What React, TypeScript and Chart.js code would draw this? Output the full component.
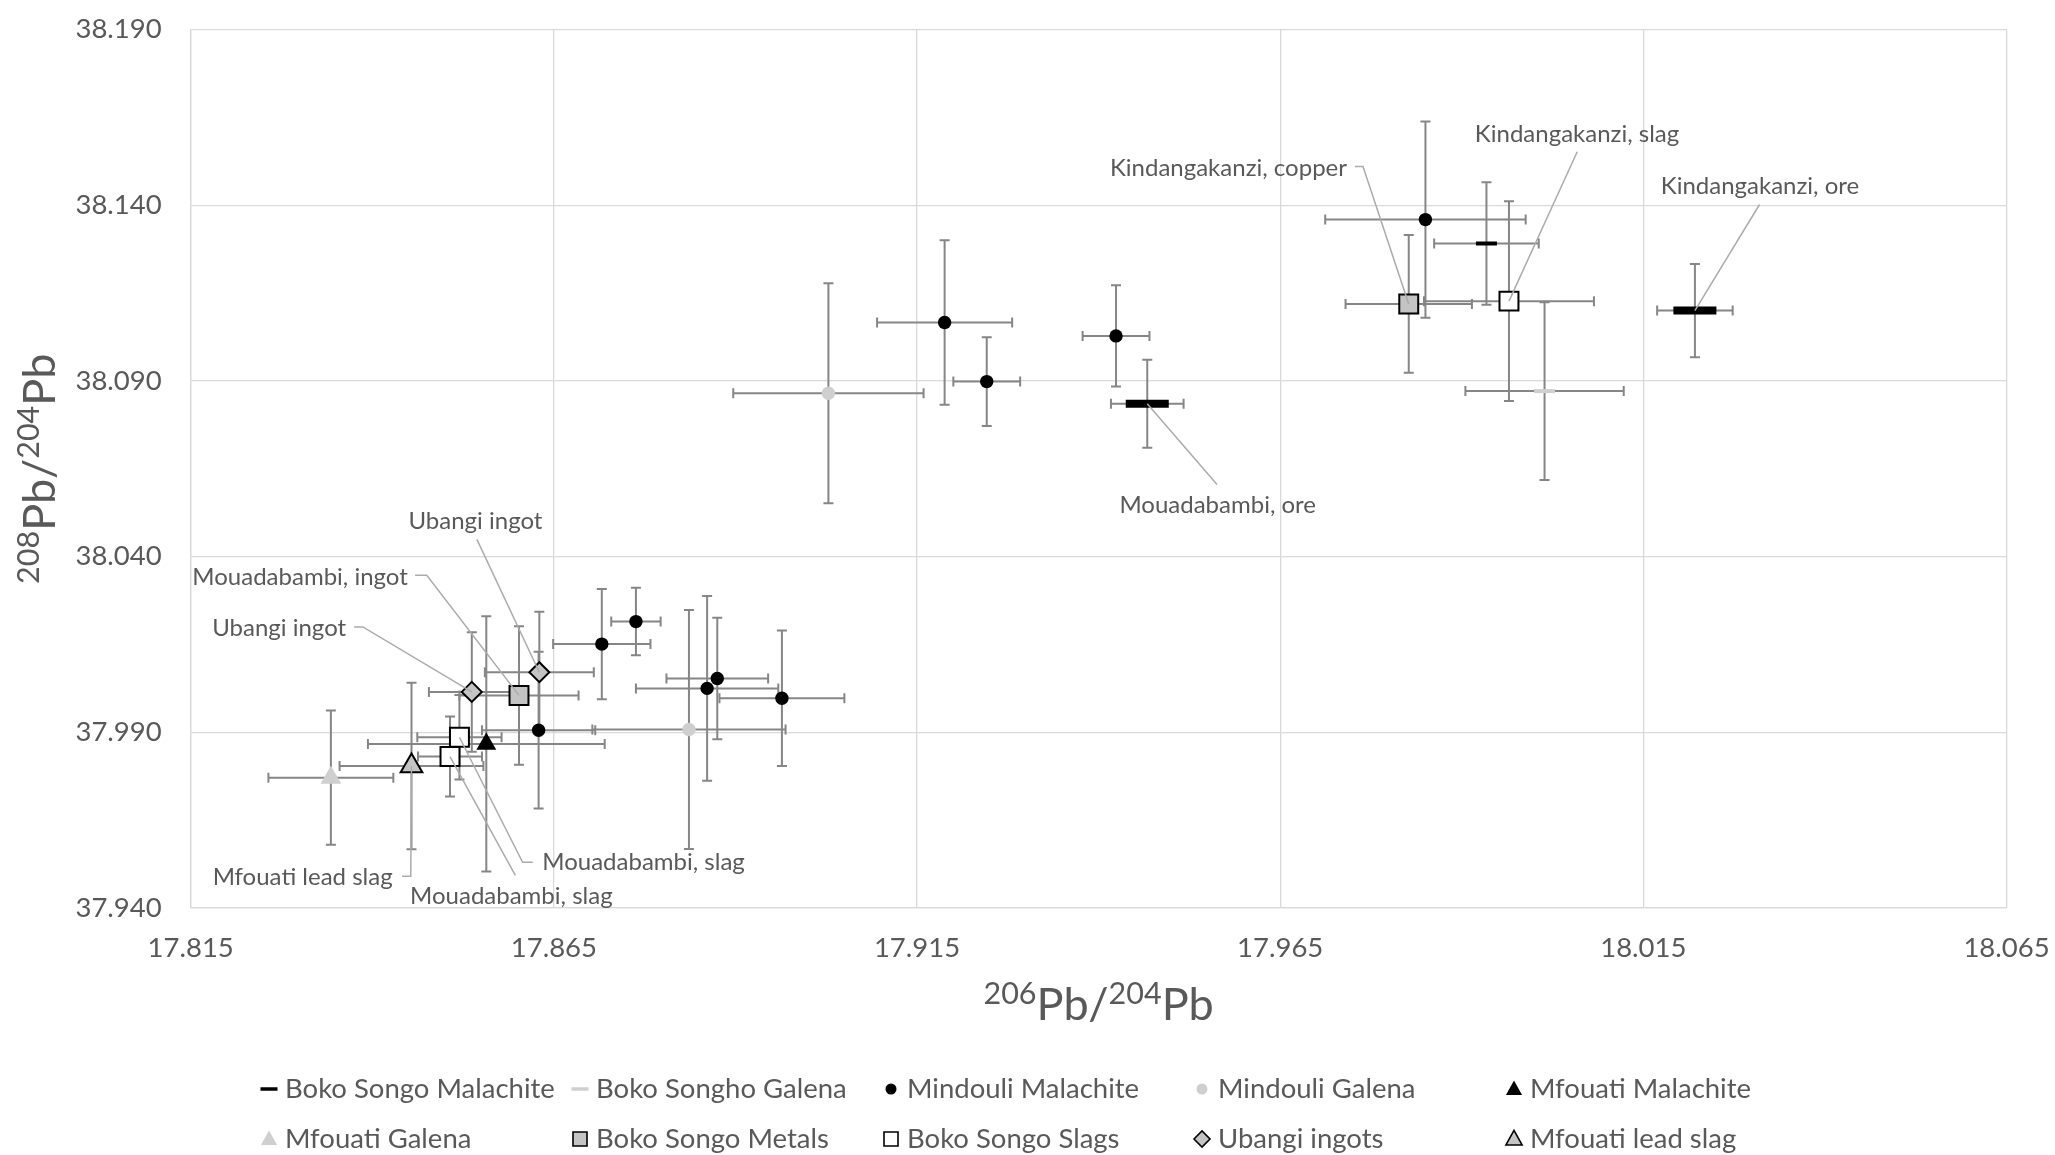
import React, { useEffect, useRef } from 'react';
import { Chart, registerables } from 'chart.js';

Chart.register(...registerables);

// ---------- axis ticks ----------
const xTickValues = [17.815, 17.865, 17.915, 17.965, 18.015, 18.065];
const yTickValues = [37.94, 37.99, 38.04, 38.09, 38.14, 38.19];

// ---------- series ----------
const seriesNames = [
  'Boko Songo Malachite',
  'Boko Songho Galena',
  'Mindouli Malachite',
  'Mindouli Galena',
  'Mfouati Malachite',
  'Mfouati Galena',
  'Boko Songo Metals',
  'Boko Songo Slags',
  'Ubangi ingots',
  'Mfouati lead slag',
];

const bsMalachiteX = [17.9467, 17.9934, 18.0221];
const bsMalachiteY = [38.0835, 38.1291, 38.11];
const bsMalachiteXErr = [0.005, 0.0072, 0.0052];
const bsMalachiteYErr = [0.0125, 0.0174, 0.0133];

const bsGalenaX = [18.0014];
const bsGalenaY = [38.0871];
const bsGalenaXErr = [0.0109];
const bsGalenaYErr = [0.0253];

const minMalachiteX = [17.8629, 17.8716, 17.8763, 17.8861, 17.8875, 17.8964, 17.9188, 17.9246, 17.9424, 17.985];
const minMalachiteY = [37.9906, 38.0151, 38.0215, 38.0025, 38.0053, 37.9997, 38.1066, 38.0898, 38.1028, 38.1359];
const minMalachiteXErr = [0.0078, 0.0067, 0.0034, 0.0098, 0.007, 0.0086, 0.0093, 0.0046, 0.0046, 0.0138];
const minMalachiteYErr = [0.0223, 0.0157, 0.0096, 0.0263, 0.0173, 0.0193, 0.0234, 0.0126, 0.0144, 0.0279];

const minGalenaX = [17.9028, 17.8836];
const minGalenaY = [38.0865, 37.9908];
const minGalenaXErr = [0.0131, 0.0133];
const minGalenaYErr = [0.0313, 0.034];

const mfMalachiteX = [17.8557];
const mfMalachiteY = [37.9867];
const mfMalachiteXErr = [0.0163];
const mfMalachiteYErr = [0.0363];

const mfGalenaX = [17.8343];
const mfGalenaY = [37.9771];
const mfGalenaXErr = [0.0086];
const mfGalenaYErr = [0.0191];

const bsMetalsX = [17.8602, 17.9827];
const bsMetalsY = [38.0005, 38.1119];
const bsMetalsXErr = [0.0082, 0.0087];
const bsMetalsYErr = [0.0197, 0.0196];

const bsSlagsX = [17.852, 17.8507, 17.9965];
const bsSlagsY = [37.9886, 37.9831, 38.1127];
const bsSlagsXErr = [0.0058, 0.0044, 0.0117];
const bsSlagsYErr = [0.012, 0.0114, 0.0284];

const ubangiX = [17.8537, 17.863];
const ubangiY = [38.0015, 38.0071];
const ubangiXErr = [0.0059, 0.0075];
const ubangiYErr = [0.017, 0.0172];

const mfLeadSlagX = [17.8454];
const mfLeadSlagY = [37.9804];
const mfLeadSlagXErr = [0.0099];
const mfLeadSlagYErr = [0.0237];

const seriesValues = [
  [bsMalachiteX, bsMalachiteY, bsMalachiteXErr, bsMalachiteYErr],
  [bsGalenaX, bsGalenaY, bsGalenaXErr, bsGalenaYErr],
  [minMalachiteX, minMalachiteY, minMalachiteXErr, minMalachiteYErr],
  [minGalenaX, minGalenaY, minGalenaXErr, minGalenaYErr],
  [mfMalachiteX, mfMalachiteY, mfMalachiteXErr, mfMalachiteYErr],
  [mfGalenaX, mfGalenaY, mfGalenaXErr, mfGalenaYErr],
  [bsMetalsX, bsMetalsY, bsMetalsXErr, bsMetalsYErr],
  [bsSlagsX, bsSlagsY, bsSlagsXErr, bsSlagsYErr],
  [ubangiX, ubangiY, ubangiXErr, ubangiYErr],
  [mfLeadSlagX, mfLeadSlagY, mfLeadSlagXErr, mfLeadSlagYErr],
];

// ---------- callouts ----------
const calloutTexts = [
  'Kindangakanzi, copper',
  'Kindangakanzi, slag',
  'Kindangakanzi, ore',
  'Mouadabambi, ore',
  'Ubangi ingot',
  'Mouadabambi, ingot',
  'Ubangi ingot',
  'Mfouati lead slag',
  'Mouadabambi, slag',
  'Mouadabambi, slag',
];
// [series index, point index] that each callout points to
const calloutTargets = [[6, 1], [7, 2], [0, 2], [0, 0], [8, 1], [6, 0], [8, 0], [9, 0], [7, 0], [7, 1]];

// ---------- styles / layout ----------
const GRAY_LIGHT = '#cfcfcf';
const GRAY_FILL = '#c4c4c4';
const TEXT = '#595959';
const FONT = 'Lato';

const seriesStyles: any[] = [
  { style: 'line', radius: [21.5, 10.5, 21.5], bw: [8, 4, 8], fill: '#000', stroke: '#000' },
  { style: 'line', radius: 10.5, bw: 4, fill: GRAY_LIGHT, stroke: GRAY_LIGHT },
  { style: 'circle', radius: 6.7, bw: 0, fill: '#000', stroke: '#000' },
  { style: 'circle', radius: 6.7, bw: 0, fill: GRAY_LIGHT, stroke: GRAY_LIGHT },
  { style: 'triangle', radius: 11.5, bw: 0, fill: '#000', stroke: '#000' },
  { style: 'triangle', radius: 12, bw: 0, fill: GRAY_LIGHT, stroke: GRAY_LIGHT },
  { style: 'rect', radius: 13.4, bw: 2, fill: GRAY_FILL, stroke: '#000' },
  { style: 'rect', radius: 13.4, bw: 2, fill: '#fff', stroke: '#000' },
  { style: 'rectRot', radius: 10, bw: 2, fill: GRAY_FILL, stroke: '#000' },
  { style: 'triangle', radius: 12.5, bw: 2, fill: GRAY_FILL, stroke: '#000' },
];

const legendMarkers: any[] = [
  { style: 'line', size: 8.5, bw: 3.5 },
  { style: 'line', size: 8.5, bw: 3.5 },
  { style: 'circle', size: 5.5, bw: 0 },
  { style: 'circle', size: 5.5, bw: 0 },
  { style: 'triangle', size: 9.5, bw: 0 },
  { style: 'triangle', size: 9.5, bw: 0 },
  { style: 'rect', size: 7, bw: 1.6 },
  { style: 'rect', size: 7, bw: 1.6 },
  { style: 'rectRot', size: 8, bw: 1.6 },
  { style: 'triangle', size: 9.5, bw: 1.6 },
];

// label anchor (data units), alignment, and leader bend points (data units)
const calloutLayout: any[] = [
  { x: 17.9742, y: 38.1504, align: 'right', path: [[17.9753, 38.151], [17.9764, 38.151]] },
  { x: 17.9918, y: 38.1603, align: 'left', path: [[18.0059, 38.1552]] },
  { x: 18.0174, y: 38.1453, align: 'left', path: [[18.031, 38.1402]] },
  { x: 17.9564, y: 38.0545, align: 'center', path: [[17.9563, 38.0605]] },
  { x: 17.8542, y: 38.05, align: 'center', path: [[17.8544, 38.0449]] },
  { x: 17.8449, y: 38.0342, align: 'right', path: [[17.8459, 38.0347], [17.8475, 38.0347]] },
  { x: 17.8364, y: 38.0195, align: 'right', path: [[17.8375, 38.02], [17.8387, 38.02]] },
  { x: 17.8428, y: 37.9488, align: 'right', path: [[17.8441, 37.949], [17.8453, 37.949]] },
  { x: 17.8634, y: 37.953, align: 'left', path: [[17.8621, 37.953], [17.8607, 37.953]] },
  { x: 17.8452, y: 37.9434, align: 'left', path: [[17.8597, 37.9493]] },
];

const legendColsX = [269, 580, 891, 1202, 1514];
const legendRowsOffset = [181, 231];

function drawShape(ctx: CanvasRenderingContext2D, style: string, x: number, y: number, r: number) {
  ctx.beginPath();
  if (style === 'circle') {
    ctx.arc(x, y, r, 0, Math.PI * 2);
  } else if (style === 'line') {
    ctx.moveTo(x - r, y);
    ctx.lineTo(x + r, y);
  } else if (style === 'triangle') {
    const h = r * 0.9;
    ctx.moveTo(x, y - h);
    ctx.lineTo(x + r * 0.85, y + h * 0.7);
    ctx.lineTo(x - r * 0.85, y + h * 0.7);
    ctx.closePath();
  } else if (style === 'rect') {
    ctx.rect(x - r, y - r, 2 * r, 2 * r);
  } else if (style === 'rectRot') {
    ctx.moveTo(x - r, y);
    ctx.lineTo(x, y - r);
    ctx.lineTo(x + r, y);
    ctx.lineTo(x, y + r);
    ctx.closePath();
  }
}

function drawRatioTitle(ctx: CanvasRenderingContext2D, cx: number, baseline: number, a: string, b: string) {
  const big = `45px ${FONT}`;
  const small = `30.5px ${FONT}`;
  const parts: [string, boolean][] = [[a, true], ['Pb/', false], [b, true], ['Pb', false]];
  let total = 0;
  const widths = parts.map(([t, sup]) => {
    ctx.font = sup ? small : big;
    const w = ctx.measureText(t).width;
    total += w;
    return w;
  });
  let x = cx - total / 2;
  ctx.fillStyle = TEXT;
  ctx.textAlign = 'left';
  ctx.textBaseline = 'alphabetic';
  parts.forEach(([t, sup], i) => {
    ctx.font = sup ? small : big;
    ctx.fillText(t, x, sup ? baseline - 16 : baseline);
    x += widths[i];
  });
}

const errorBarPlugin = {
  id: 'errorBars',
  beforeDatasetsDraw(chart: any) {
    const { ctx, scales } = chart;
    const xs = scales.x;
    const ys = scales.y;
    const cap = 5;
    ctx.save();
    ctx.strokeStyle = '#868686';
    ctx.lineWidth = 2;
    chart.data.datasets.forEach((ds: any) => {
      ds.data.forEach((p: any) => {
        const px = xs.getPixelForValue(p.x);
        const py = ys.getPixelForValue(p.y);
        const x0 = xs.getPixelForValue(p.x - p.xErr);
        const x1 = xs.getPixelForValue(p.x + p.xErr);
        const y0 = ys.getPixelForValue(p.y - p.yErr);
        const y1 = ys.getPixelForValue(p.y + p.yErr);
        ctx.beginPath();
        ctx.moveTo(x0, py); ctx.lineTo(x1, py);
        ctx.moveTo(x0, py - cap); ctx.lineTo(x0, py + cap);
        ctx.moveTo(x1, py - cap); ctx.lineTo(x1, py + cap);
        ctx.moveTo(px, y0); ctx.lineTo(px, y1);
        ctx.moveTo(px - cap, y0); ctx.lineTo(px + cap, y0);
        ctx.moveTo(px - cap, y1); ctx.lineTo(px + cap, y1);
        ctx.stroke();
      });
    });
    ctx.restore();
  },
};

const calloutPlugin = {
  id: 'callouts',
  afterDatasetsDraw(chart: any) {
    const { ctx, scales } = chart;
    const xs = scales.x;
    const ys = scales.y;
    ctx.save();
    calloutTexts.forEach((text, i) => {
      const lay = calloutLayout[i];
      const [si, pi] = calloutTargets[i];
      const target = chart.data.datasets[si].data[pi];
      ctx.strokeStyle = '#ababab';
      ctx.lineWidth = 1.5;
      ctx.beginPath();
      lay.path.forEach(([vx, vy]: number[], k: number) => {
        const X = xs.getPixelForValue(vx);
        const Y = ys.getPixelForValue(vy);
        if (k === 0) ctx.moveTo(X, Y); else ctx.lineTo(X, Y);
      });
      ctx.lineTo(xs.getPixelForValue(target.x), ys.getPixelForValue(target.y));
      ctx.stroke();
      ctx.font = `24px ${FONT}`;
      ctx.fillStyle = TEXT;
      ctx.textAlign = lay.align;
      ctx.textBaseline = 'middle';
      ctx.fillText(text, xs.getPixelForValue(lay.x), ys.getPixelForValue(lay.y));
    });
    ctx.restore();
  },
};

const decorPlugin = {
  id: 'decor',
  afterDraw(chart: any) {
    const { ctx, chartArea } = chart;
    const cx = (chartArea.left + chartArea.right) / 2;
    const cy = (chartArea.top + chartArea.bottom) / 2;
    ctx.save();
    drawRatioTitle(ctx, cx, chartArea.bottom + 112, '206', '204');
    ctx.translate(55, cy);
    ctx.rotate(-Math.PI / 2);
    drawRatioTitle(ctx, 0, 0, '208', '204');
    ctx.restore();

    // legend
    ctx.save();
    seriesNames.forEach((name, i) => {
      const row = Math.floor(i / 5);
      const col = i % 5;
      const x = legendColsX[col];
      const y = chartArea.bottom + legendRowsOffset[row];
      const m = legendMarkers[i];
      const st = seriesStyles[i];
      drawShape(ctx, m.style, x, y, m.size);
      if (m.style === 'line') {
        ctx.strokeStyle = st.stroke;
        ctx.lineWidth = m.bw;
        ctx.stroke();
      } else {
        ctx.fillStyle = st.fill;
        ctx.fill();
        if (m.bw > 0) {
          ctx.strokeStyle = st.stroke;
          ctx.lineWidth = m.bw;
          ctx.stroke();
        }
      }
      ctx.font = `27.5px ${FONT}`;
      ctx.fillStyle = TEXT;
      ctx.textAlign = 'left';
      ctx.textBaseline = 'middle';
      ctx.fillText(name, x + 16, y);
    });
    ctx.restore();
  },
};

function zeroPadding(s: any) {
  s.paddingTop = 0;
  s.paddingBottom = 0;
  s.paddingLeft = 0;
  s.paddingRight = 0;
}

export default function App() {
  const canvasRef = useRef<HTMLCanvasElement | null>(null);

  useEffect(() => {
    if (!canvasRef.current) return;
    Chart.defaults.font.family = FONT;
    const datasets = seriesNames.map((name, i) => {
      const [xv, yv, xe, ye] = seriesValues[i];
      const st = seriesStyles[i];
      return {
        label: name,
        data: xv.map((x, k) => ({ x, y: yv[k], xErr: xe[k], yErr: ye[k] })),
        pointStyle: st.style,
        pointRadius: st.radius,
        pointHoverRadius: st.radius,
        pointBorderWidth: st.bw,
        pointBackgroundColor: st.fill,
        pointBorderColor: st.stroke,
        backgroundColor: st.fill,
        borderColor: st.stroke,
        showLine: false,
        order: -i,
        clip: false,
      };
    });

    const chart = new Chart(canvasRef.current, {
      type: 'scatter',
      data: { datasets } as any,
      plugins: [errorBarPlugin, calloutPlugin, decorPlugin],
      options: {
        responsive: false,
        animation: false,
        events: [],
        layout: { padding: { top: 24, right: 48.5, bottom: 0, left: 0 } },
        plugins: { legend: { display: false }, tooltip: { enabled: false } },
        scales: {
          x: {
            type: 'linear',
            min: xTickValues[0],
            max: xTickValues[xTickValues.length - 1],
            afterFit: (s: any) => { s.height = 247; zeroPadding(s); },
            afterBuildTicks: (s: any) => { s.ticks = xTickValues.map((v) => ({ value: v })); },
            ticks: {
              callback: (v: any) => Number(v).toFixed(3),
              color: TEXT,
              font: { family: FONT, size: 27.5 },
              padding: 24,
              maxRotation: 0,
              autoSkip: false,
            },
            grid: { color: '#d9d9d9', lineWidth: 1.3, drawTicks: false },
            border: { color: '#d9d9d9', width: 1.3 },
          },
          y: {
            type: 'linear',
            min: yTickValues[0],
            max: yTickValues[yTickValues.length - 1],
            afterFit: (s: any) => { s.width = 190.7; zeroPadding(s); },
            afterBuildTicks: (s: any) => { s.ticks = yTickValues.map((v) => ({ value: v })); },
            ticks: {
              callback: (v: any) => Number(v).toFixed(3),
              color: TEXT,
              font: { family: FONT, size: 27.5 },
              padding: 29,
              autoSkip: false,
            },
            grid: { color: '#d9d9d9', lineWidth: 1.3, drawTicks: false },
            border: { color: '#d9d9d9', width: 1.3 },
          },
        },
      } as any,
    });
    return () => chart.destroy();
  }, []);

  return (
    <div style={{ position: 'absolute', left: 0, top: 0, width: 2055, height: 1155, background: '#fff' }}>
      <canvas ref={canvasRef} width={2055} height={1155} />
    </div>
  );
}
